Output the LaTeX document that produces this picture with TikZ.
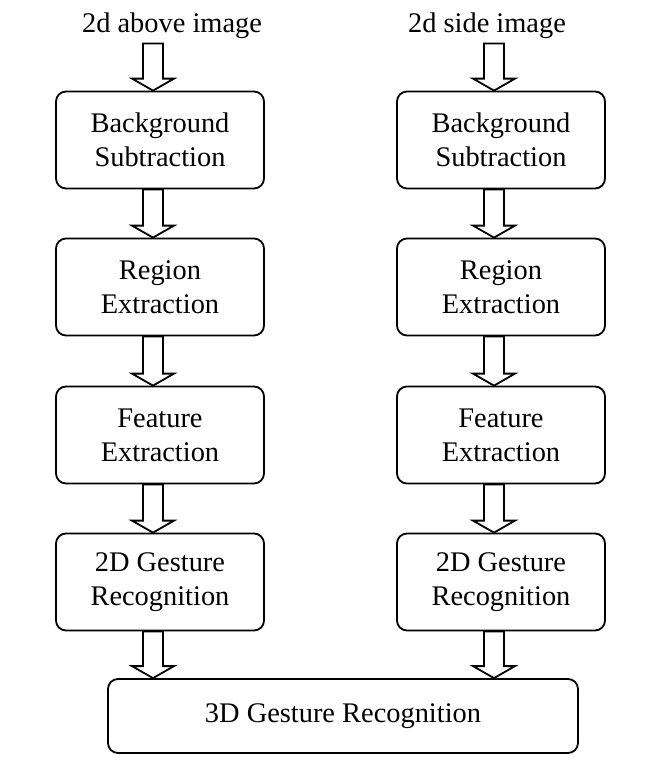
\documentclass[tikz,border=0pt]{standalone}
\usepackage{fontspec}
\setmainfont{Liberation Serif}
\usetikzlibrary{calc}

% hollow block arrow: from #1.south to #2.north, on the x of node #3
\newcommand{\blockarrow}[3]{%
  \draw[hollow] let \p1=($(#3.center)+(-7,0)$), \p2=(#1.south), \p3=(#2.north) in
    (\x1-5pt,\y2) -- (\x1+5pt,\y2) -- (\x1+5pt,\y3+6pt) -- (\x1+10.5pt,\y3+6pt)
    -- (\x1,\y3) -- (\x1-10.5pt,\y3+6pt) -- (\x1-5pt,\y3+6pt) -- cycle;}

\begin{document}
\begin{tikzpicture}[
    x=0.5pt, y=-0.5pt,
    stage/.style={draw, rounded corners=5pt, line width=0.9pt, minimum width=104pt, minimum height=48.5pt, align=center, font=\fontsize{14.2}{17}\selectfont},
    inputlabel/.style={anchor=base, inner sep=2.5pt, font=\fontsize{14.2}{17}\selectfont},
    hollow/.style={draw, line width=0.9pt, fill=white, line join=miter}
]
\useasboundingbox (0,0) rectangle (671,767);

% Entradas
\node[inputlabel] (above) at (172,32) {2d above image};
\node[inputlabel] (side) at (487,32) {2d side image};

% Coluna esquerda
\node[stage] (bgabove) at (160,140) {Background\\Subtraction};
\node[stage] (regabove) at (160,287) {Region\\Extraction};
\node[stage] (featabove) at (160,435) {Feature\\Extraction};
\node[stage] (gestabove) at (160,582) {2D Gesture\\Recognition};

% Coluna direita
\node[stage] (bgside) at (501,140) {Background\\Subtraction};
\node[stage] (regside) at (501,287) {Region\\Extraction};
\node[stage] (featside) at (501,435) {Feature\\Extraction};
\node[stage] (gestside) at (501,582) {2D Gesture\\Recognition};

% Fusao 3D
\node[stage, minimum width=235pt, minimum height=37pt] (gest3d) at (343,716) {3D Gesture Recognition};

% Setas
\blockarrow{above}{bgabove}{bgabove}
\blockarrow{bgabove}{regabove}{regabove}
\blockarrow{regabove}{featabove}{featabove}
\blockarrow{featabove}{gestabove}{gestabove}
\blockarrow{gestabove}{gest3d}{gestabove}

\blockarrow{side}{bgside}{bgside}
\blockarrow{bgside}{regside}{regside}
\blockarrow{regside}{featside}{featside}
\blockarrow{featside}{gestside}{gestside}
\blockarrow{gestside}{gest3d}{gestside}

\end{tikzpicture}
\end{document}
